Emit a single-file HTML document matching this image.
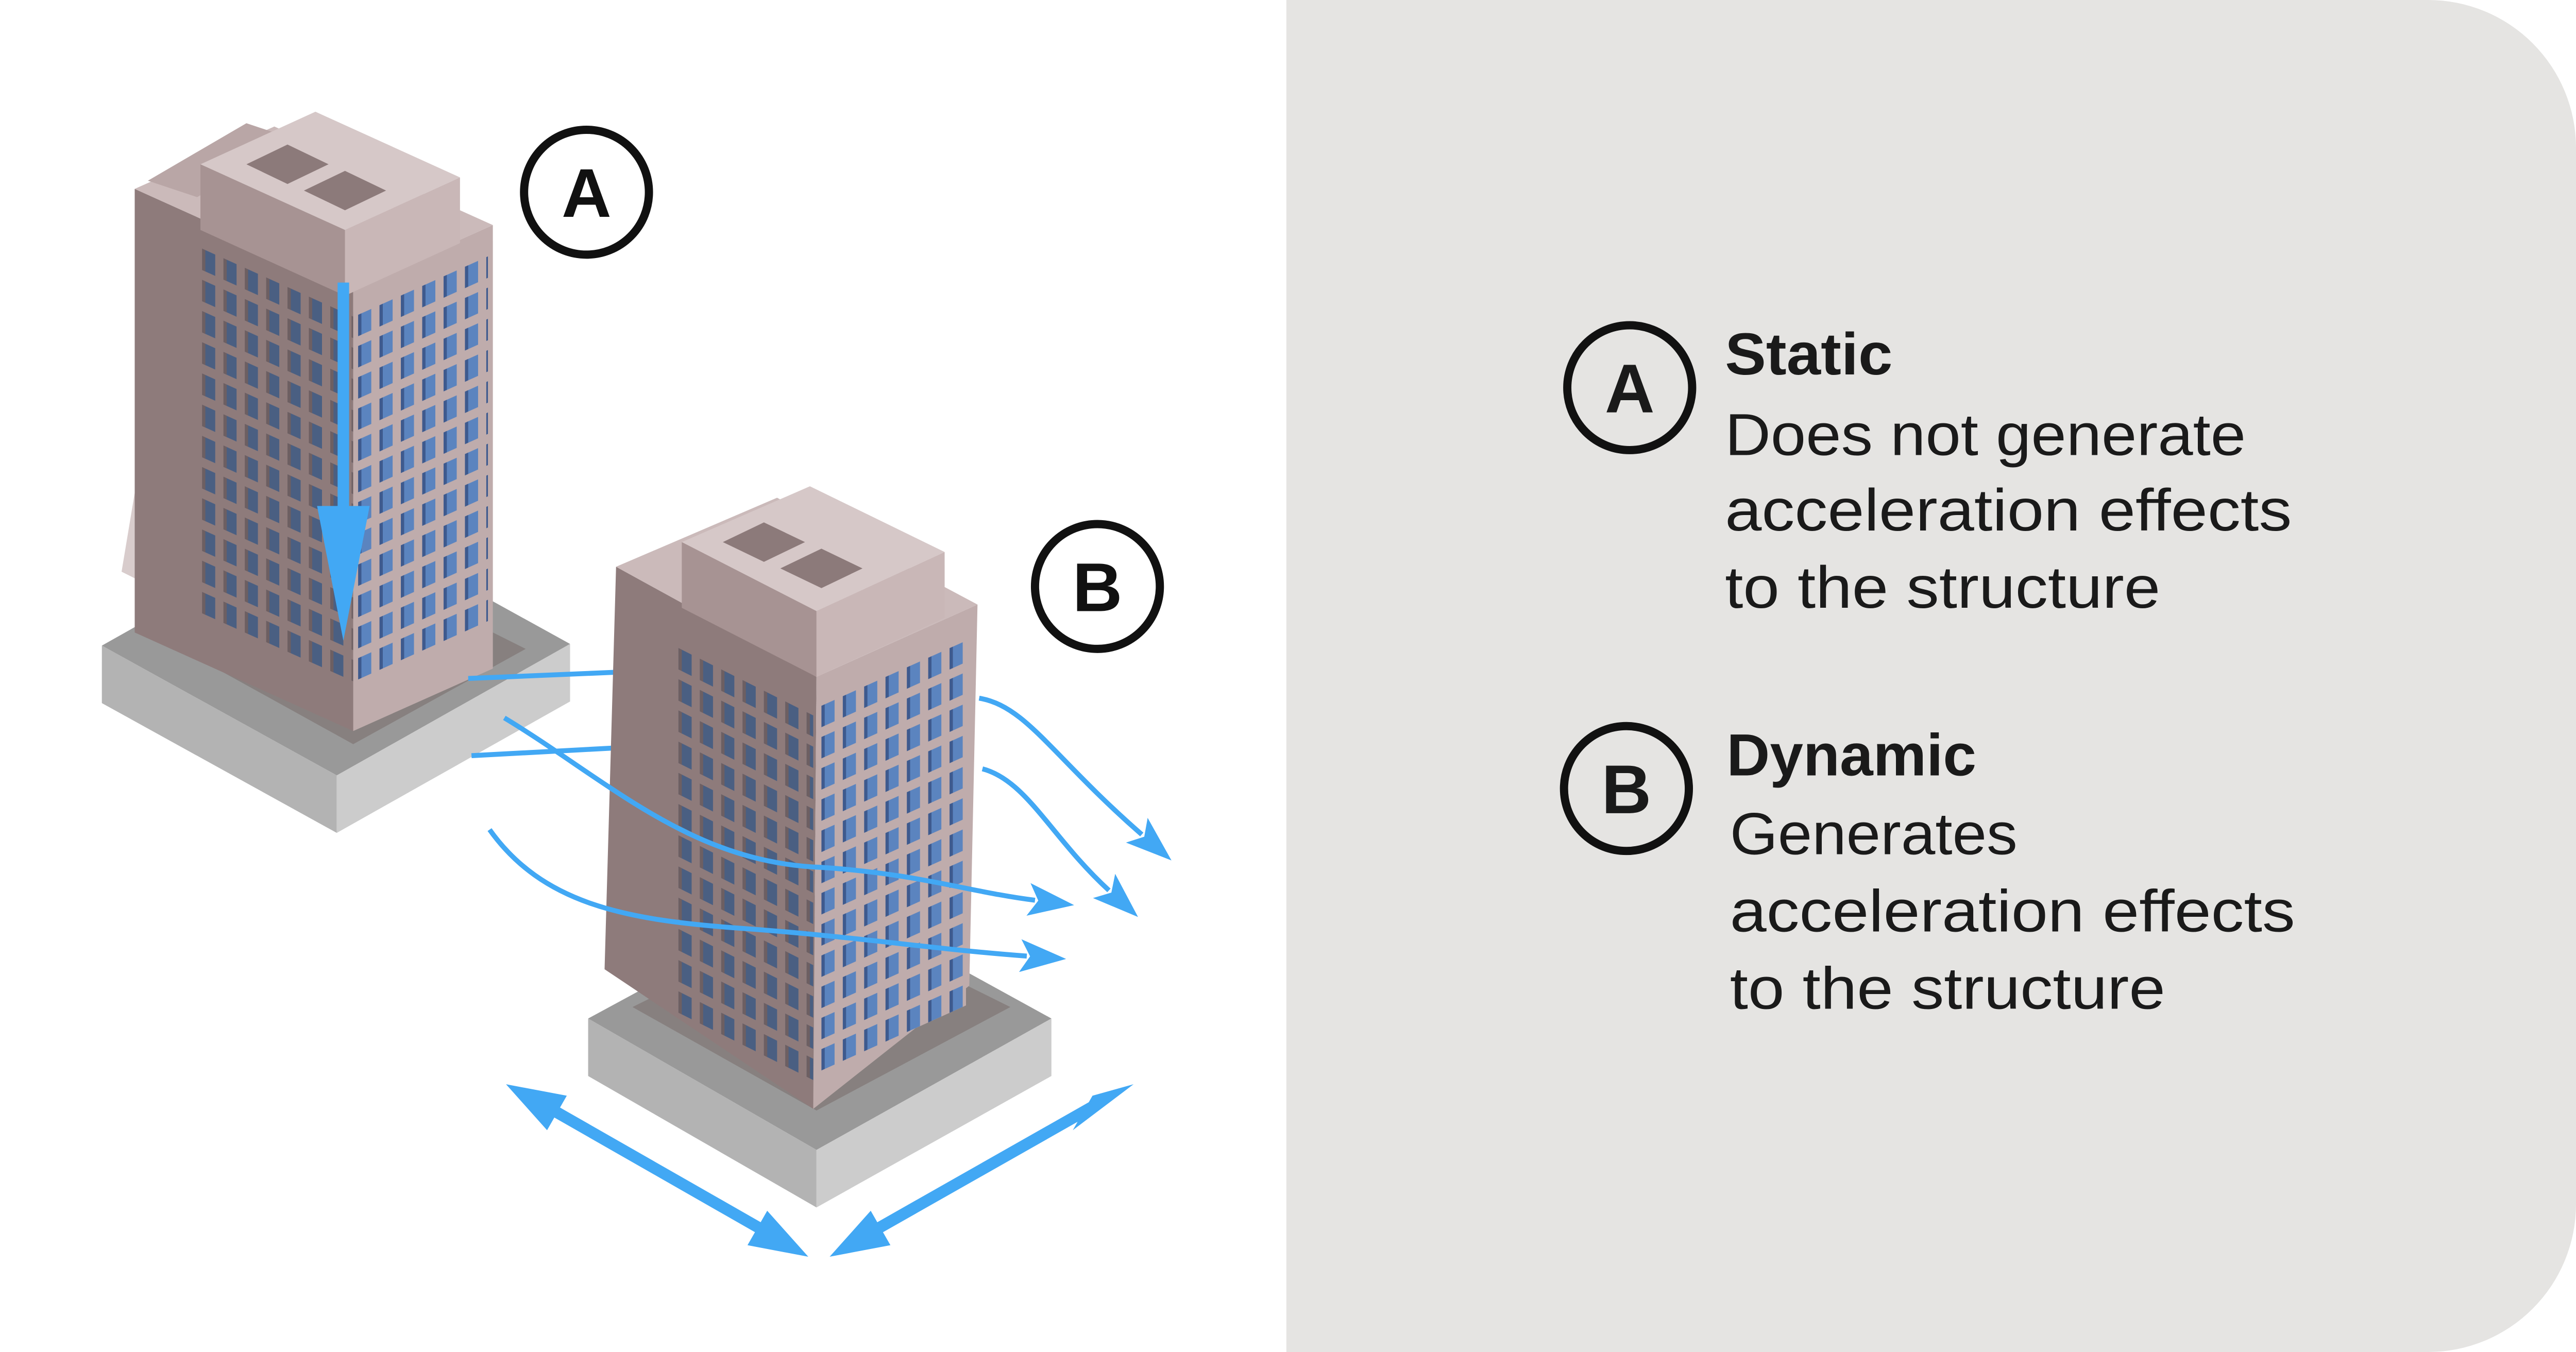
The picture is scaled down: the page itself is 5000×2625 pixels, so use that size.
<!DOCTYPE html>
<html><head><meta charset="utf-8"><style>
html,body{margin:0;padding:0;background:#fff;}
svg{display:block;}
</style></head><body>
<svg width="5000" height="2625" viewBox="0 0 1568 823" preserveAspectRatio="none" xmlns="http://www.w3.org/2000/svg">
<defs>
<pattern id="winL" width="13" height="19" patternUnits="userSpaceOnUse">
<rect width="13" height="19" fill="#8e7b7b"/><rect x="3" y="3" width="8" height="13" fill="#4a5f82"/><rect x="3" y="3" width="2" height="13" fill="#6d5f62"/></pattern>
<pattern id="winR" width="13" height="19" patternUnits="userSpaceOnUse">
<rect width="13" height="19" fill="#bfacac"/><rect x="3" y="3" width="8" height="13" fill="#5b84bf"/><rect x="3" y="3" width="2" height="13" fill="#3e5a8e"/></pattern>
<marker id="ah" markerWidth="28" markerHeight="20" refX="4" refY="10" orient="auto" markerUnits="userSpaceOnUse" viewBox="0 0 28 20">
<path d="M0,0 L28,10 L0,20 L6,10 Z" fill="#42a8f4"/></marker>
</defs>
<path d="M783,0 H1478 A90,90 0 0 1 1568,90 V733 A90,90 0 0 1 1478,823 H783 Z" fill="#e5e4e2"/>

<polygon points="62,393 205,472 347,392 204,313" fill="#999"/>
<polygon points="62,393 205,472 205,507 62,428" fill="#b3b3b3"/>
<polygon points="205,472 347,392 347,427 205,507" fill="#ccc"/>
<polygon points="92,385 215,453 320,395 200,335" fill="#87807f"/>
<polygon points="74,348 82,352 82,300" fill="#d8cccc"/>
<polygon points="82,115 215,175 215,445 82,385" fill="#8e7b7b"/>
<polygon points="215,175 300,137 300,407 215,445" fill="#bfacac"/>
<g transform="matrix(1,0.45,0,1,120,147)"><rect width="95" height="225" fill="url(#winL)"/></g>
<g transform="matrix(1,-0.45,0,1,215,190)"><rect width="82" height="225" fill="url(#winR)"/></g>
<polygon points="82,115 215,175 300,137 167,77" fill="#cbbaba"/>
<polygon points="90,110 150,75 180,85 120,120" fill="#b9a6a6"/>
<polygon points="122,100 210,140 280,108 192,68" fill="#d6c8c8"/>
<polygon points="122,100 210,140 210,180 122,140" fill="#a79393"/>
<polygon points="210,140 280,108 280,148 210,180" fill="#c9b7b7"/>
<polygon points="150,100 175,112 200,100 175,88" fill="#8c7a7a"/>
<polygon points="185,116 210,128 235,116 210,104" fill="#8c7a7a"/>

<circle cx="357" cy="117" r="38" fill="#fff" stroke="#111" stroke-width="5"/>
<text x="357" y="132" text-anchor="middle" font-family="Liberation Sans, sans-serif" font-weight="bold" font-size="42" fill="#111">A</text>

<line x1="209" y1="172" x2="209" y2="310" stroke="#42a8f4" stroke-width="7"/>
<polygon points="193,308 225,308 209,390" fill="#42a8f4"/>

<g fill="none" stroke="#42a8f4" stroke-width="3">
<path d="M285,413 L380,409"/>
<path d="M287,460 L380,455"/>
<path d="M596,425 C625,430 640,460 695,508" marker-end="url(#ah)"/>
<path d="M598,468 C625,475 640,510 675,542" marker-end="url(#ah)"/>
</g>

<polygon points="358,620 497,700 640,620 500,543" fill="#999"/>
<polygon points="358,620 497,700 497,735 358,655" fill="#b3b3b3"/>
<polygon points="497,700 640,620 640,655 497,735" fill="#ccc"/>
<polygon points="385,613 497,676 615,613 500,556" fill="#87807f"/>
<polygon points="375,345 497,412 495,675 368,590" fill="#8e7b7b"/>
<polygon points="497,412 595,368 590,600 495,675" fill="#bfacac"/>
<g transform="matrix(1,0.5,0,1,410,390)"><rect width="85" height="225" fill="url(#winL)"/></g>
<g transform="matrix(1,-0.45,0,1,497,428)"><rect width="91" height="225" fill="url(#winR)"/></g>
<polygon points="375,345 497,412 595,368 473,303" fill="#cbbaba"/>
<polygon points="415,330 497,372 575,336 493,296" fill="#d6c8c8"/>
<polygon points="415,330 497,372 497,412 415,370" fill="#a79393"/>
<polygon points="497,372 575,336 575,376 497,412" fill="#c9b7b7"/>
<polygon points="440,330 465,342 490,330 465,318" fill="#8c7a7a"/>
<polygon points="475,346 500,358 525,346 500,334" fill="#8c7a7a"/>

<g fill="none" stroke="#42a8f4" stroke-width="3">
<path d="M307,437 C370,475 420,525 500,528 C560,532 590,543 630,548" marker-end="url(#ah)"/>
<path d="M298,505 C330,550 380,560 450,565 C520,570 570,578 625,582" marker-end="url(#ah)"/>
</g>

<circle cx="668" cy="357" r="38" fill="#fff" stroke="#111" stroke-width="5"/>
<text x="668" y="372" text-anchor="middle" font-family="Liberation Sans, sans-serif" font-weight="bold" font-size="42" fill="#111">B</text>

<g stroke="#42a8f4" stroke-width="7">
<line x1="330" y1="672" x2="470" y2="752"/>
<line x1="527" y1="752" x2="668" y2="672"/>
</g>
<g fill="#42a8f4">
<polygon points="308,660 345,667 333,688"/>
<polygon points="492,765 455,758 467,737"/>
<polygon points="505,765 530,737 542,758"/>
<polygon points="690,660 653,688 665,667"/>
</g>

<g font-family="Liberation Sans, sans-serif" fill="#1a1a1a">
<circle cx="992" cy="236" r="38" fill="none" stroke="#111" stroke-width="5"/>
<text x="992" y="251" text-anchor="middle" font-weight="bold" font-size="42">A</text>
<text x="1050" y="228" font-weight="bold" font-size="36" textLength="102" lengthAdjust="spacingAndGlyphs">Static</text>
<text x="1050" y="277" font-size="36" textLength="317" lengthAdjust="spacingAndGlyphs">Does not generate</text>
<text x="1050" y="323" font-size="36" textLength="345" lengthAdjust="spacingAndGlyphs">acceleration effects</text>
<text x="1050" y="370" font-size="36" textLength="265" lengthAdjust="spacingAndGlyphs">to the structure</text>
<circle cx="990" cy="480" r="38" fill="none" stroke="#111" stroke-width="5"/>
<text x="990" y="495" text-anchor="middle" font-weight="bold" font-size="42">B</text>
<text x="1051" y="472" font-weight="bold" font-size="36" textLength="152" lengthAdjust="spacingAndGlyphs">Dynamic</text>
<text x="1053" y="520" font-size="36" textLength="175" lengthAdjust="spacingAndGlyphs">Generates</text>
<text x="1053" y="567" font-size="36" textLength="344" lengthAdjust="spacingAndGlyphs">acceleration effects</text>
<text x="1053" y="614" font-size="36" textLength="265" lengthAdjust="spacingAndGlyphs">to the structure</text>
</g>
</svg>
</body></html>
